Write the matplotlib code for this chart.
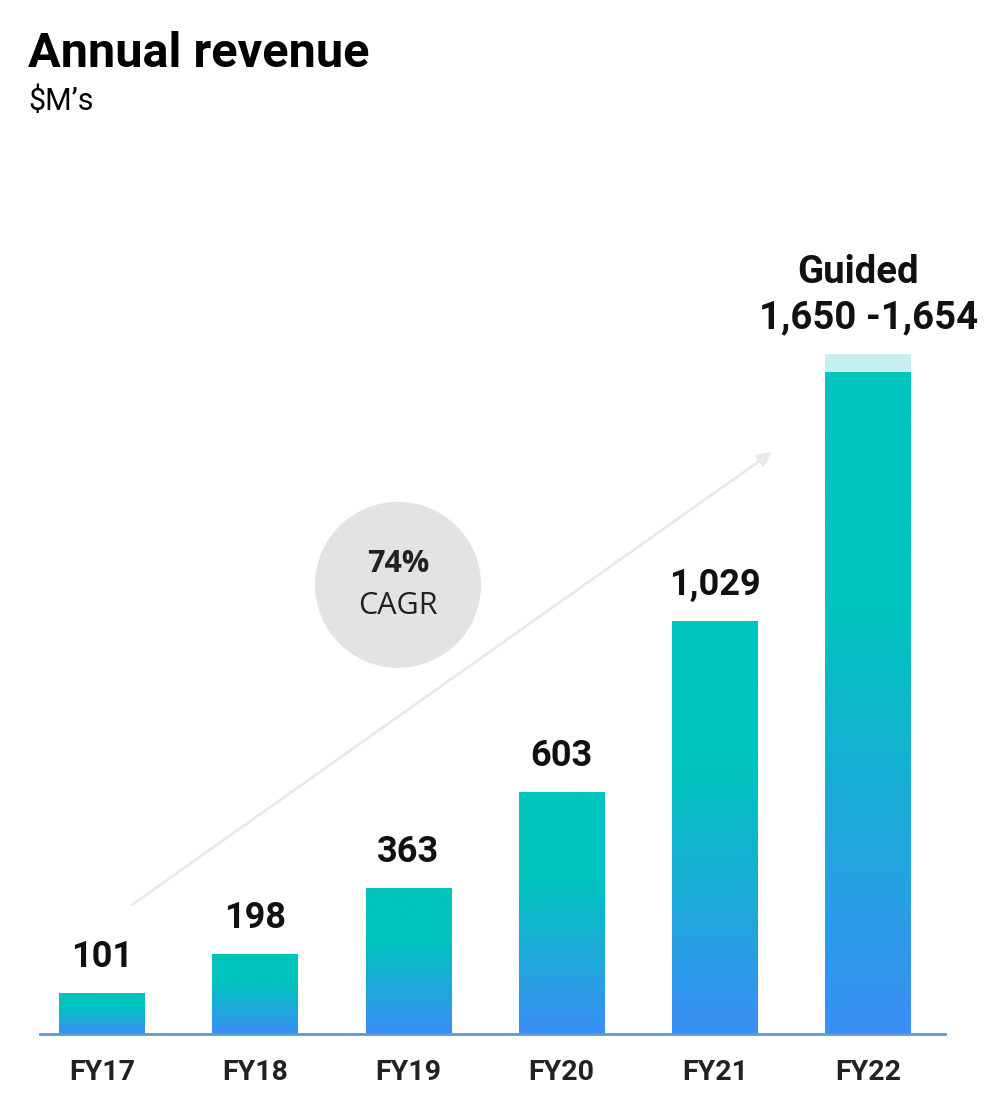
import matplotlib
matplotlib.use("Agg")
import matplotlib.pyplot as plt
import numpy as np
from matplotlib.colors import LinearSegmentedColormap
from matplotlib.patches import Ellipse, Rectangle

# ---- data ----
categories = ["FY17", "FY18", "FY19", "FY20", "FY21", "FY22"]
revenue = [101, 198, 363, 603, 1029, 1650]
value_labels = ["101", "198", "363", "603", "1,029", "1,654"]
guided_low = 1650
guided_high = 1654
guided_cap_drawn_top = 1695  # light cap as drawn in the picture
cagr_text = "74%"
cagr_sub = "CAGR"

W, H = 997, 1095
fig = plt.figure(figsize=(W / 100, H / 100), dpi=100)
fig.patch.set_facecolor("white")

# axes geometry (pixels)
left_px, right_px = 40, 945
base_px, top_px = 1034, 240
ax = fig.add_axes([left_px / W, (H - base_px) / H, (right_px - left_px) / W, (base_px - top_px) / H])
px_per_unit = 0.401
ax.set_facecolor("none")

teal = np.array([0, 196, 190]) / 255
blue = np.array([58, 142, 246]) / 255
cmap = LinearSegmentedColormap.from_list("g", [(0.0, blue), (0.64, teal), (1.0, teal)])

bw = 0.56
x = np.arange(len(categories))
grad = np.linspace(0, 1, 256).reshape(-1, 1)
for xi, v in zip(x, revenue):
    ax.imshow(grad, cmap=cmap, origin="lower", aspect="auto",
              extent=(xi - bw / 2, xi + bw / 2, 0, v), zorder=2, interpolation="bilinear")

# guided cap
ax.add_patch(Rectangle((x[-1] - bw / 2, guided_low), bw, guided_cap_drawn_top - guided_low,
                       facecolor="#c8eff0", edgecolor="none", zorder=2))

ax.set_xlim(-0.405, 5.502)
ax.set_ylim(0, (base_px - top_px) / px_per_unit)

# value labels
lab_font = dict(family="Roboto", fontweight="bold", fontsize=26, color="#111111")
for xi, v, lab in zip(x[:-1], revenue[:-1], value_labels[:-1]):
    ax.annotate(lab, (xi, v), xytext=(0, 19), textcoords="offset points",
                ha="center", va="baseline", **lab_font)
g_font = dict(lab_font, fontsize=27.5)
ax.annotate(f"{guided_low:,} -{guided_high:,}", (x[-1], guided_cap_drawn_top), xytext=(0, 19),
            textcoords="offset points", ha="center", va="baseline", **g_font)
ax.annotate("Guided", (x[-1] - 0.065, guided_cap_drawn_top), xytext=(0, 51),
            textcoords="offset points", ha="center", va="baseline", **g_font)

# CAGR arrow and circle
ax.annotate("", xy=(4.373, 1451), xytext=(0.195, 322),
            arrowprops=dict(arrowstyle="-|>", color="#e8e8e8", lw=1.8, mutation_scale=22,
                            shrinkA=0, shrinkB=0), zorder=1)
ax.add_patch(Ellipse((1.932, 1120), 166 / 153.2, 166 / px_per_unit,
                     facecolor="#e3e3e3", edgecolor="none", zorder=1.5))
ax.text(1.932, 1120 + 21 / px_per_unit, cagr_text, ha="center", va="center",
        family="Open Sans", fontweight="bold", fontsize=22, color="#222222", zorder=3)
ax.text(1.932, 1120 - 21 / px_per_unit, cagr_sub, ha="center", va="center",
        family="Open Sans", fontsize=22, color="#222222", zorder=3)

# axes styling
for s in ["top", "right", "left"]:
    ax.spines[s].set_visible(False)
ax.spines["bottom"].set_color("#5b9bd5")
ax.spines["bottom"].set_linewidth(2)
ax.spines["bottom"].set_zorder(3)
ax.set_yticks([])
ax.set_xticks(x)
ax.set_xticklabels(categories, family="Roboto", fontweight="bold", fontsize=20.5, color="#222222")
ax.tick_params(axis="x", length=0, pad=18)

# titles
fig.text(28 / W, 1 - 67 / H, "Annual revenue", family="Roboto", fontweight="bold",
         fontsize=35, color="black", va="baseline", ha="left")
fig.text(28 / W, 1 - 110 / H, "$M\u2019s", family="Roboto", fontsize=22,
         color="black", va="baseline", ha="left")

fig.savefig("out.png", dpi=100, facecolor="white")
